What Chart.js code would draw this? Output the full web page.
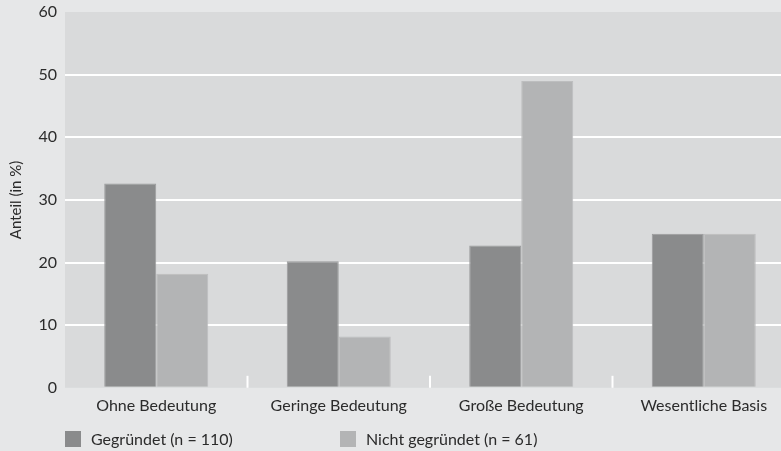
<!DOCTYPE html>
<html>
<head>
  <meta charset="UTF-8" />
  <title>Anteil (in %)</title>
  <script src="https://cdn.jsdelivr.net/npm/chart.js@4.4.0/dist/chart.umd.min.js"></script>
  <style>
    html,body{margin:0;padding:0;background:#e6e7e8;overflow:hidden}
    #wrap{position:relative;width:781px;height:451px;overflow:hidden}
    #chart{position:absolute;left:0;top:0}
    .legend{position:absolute;top:429px;left:65px;font:16px Lato,sans-serif;color:#2b2b2b}
    .legend span.box{position:absolute;top:2px;width:16px;height:16px}
    .legend span.txt{position:absolute;top:0;white-space:nowrap;line-height:19px}
  </style>
</head>
<body>
<div id="wrap">
  <canvas id="chart"></canvas>
  <div class="legend" id="legend"></div>
</div>
<script>
  const categories=['Ohne Bedeutung','Geringe Bedeutung','Große Bedeutung','Wesentliche Basis'];
  const seriesNames=['Gegründet (n = 110)','Nicht gegründet (n = 61)'];
  const gegruendet=[32.6,20.2,22.7,24.6];
  const nichtGegruendet=[18.2,8.2,49.0,24.6];
  const yTicks=[0,10,20,30,40,50,60];
  const colors=['#8a8b8c','#b3b4b5'];
  const borders=['#9a9b9c','#bdbebf'];

  const canvas=document.getElementById('chart');
  // plot runs past the right edge in the original, so the canvas is a bit wider than the page
  canvas.width=795; canvas.height=451;
  canvas.style.width='795px'; canvas.style.height='451px';

  const plotBg={
    id:'plotBg',
    beforeDraw(chart){
      const {ctx,chartArea:a}=chart;
      ctx.save();
      ctx.fillStyle='#d9dadb';
      ctx.fillRect(a.left,a.top,a.right-a.left,a.bottom-a.top);
      ctx.restore();
    }
  };

  const catTicks={
    id:'catTicks',
    beforeDatasetsDraw(chart){
      const {ctx,chartArea:a,scales:{x}}=chart;
      ctx.save();
      ctx.strokeStyle='#ffffff';
      ctx.lineWidth=2;
      for(let i=1;i<categories.length;i++){
        const px=(x.getPixelForValue(i-1)+x.getPixelForValue(i))/2;
        ctx.beginPath();
        ctx.moveTo(px,a.bottom-12);
        ctx.lineTo(px,a.bottom);
        ctx.stroke();
      }
      ctx.restore();
    }
  };

  new Chart(canvas,{
    type:'bar',
    data:{
      labels:categories,
      datasets:[
        {label:seriesNames[0],data:gegruendet,backgroundColor:colors[0],borderColor:borders[0],borderWidth:1,categoryPercentage:0.57,barPercentage:1.0},
        {label:seriesNames[1],data:nichtGegruendet,backgroundColor:colors[1],borderColor:borders[1],borderWidth:1,categoryPercentage:0.57,barPercentage:1.0}
      ]
    },
    options:{
      responsive:false,
      animation:false,
      layout:{padding:{top:12,right:0,bottom:36,left:0}},
      plugins:{legend:{display:false},tooltip:{enabled:false}},
      scales:{
        x:{
          grid:{display:false},
          border:{display:false},
          ticks:{color:'#2b2b2b',font:{family:'Lato',size:16},padding:0,maxRotation:0}
        },
        y:{
          min:0,max:60,
          afterBuildTicks(s){s.ticks=yTicks.map(v=>({value:v}));},
          afterFit(s){s.width=65;s.paddingTop=0;s.paddingBottom=0;},
          grid:{
            color:c=>(c.tick&&(c.tick.value===0||c.tick.value===60))?'rgba(0,0,0,0)':'#ffffff',
            lineWidth:2,drawTicks:false
          },
          border:{display:false},
          ticks:{color:'#2b2b2b',font:{family:'Lato',size:16},padding:8},
          title:{display:true,text:'Anteil (in %)',color:'#2b2b2b',font:{family:'Lato',size:15},padding:{top:7,bottom:4}}
        }
      }
    },
    plugins:[plotBg,catTicks]
  });

  const legend=document.getElementById('legend');
  const offsets=[0,275];
  seriesNames.forEach((name,i)=>{
    const b=document.createElement('span');
    b.className='box';b.style.left=offsets[i]+'px';b.style.background=colors[i];
    const t=document.createElement('span');
    t.className='txt';t.style.left=(offsets[i]+26)+'px';t.textContent=name;
    legend.appendChild(b);legend.appendChild(t);
  });
</script>
</body>
</html>
